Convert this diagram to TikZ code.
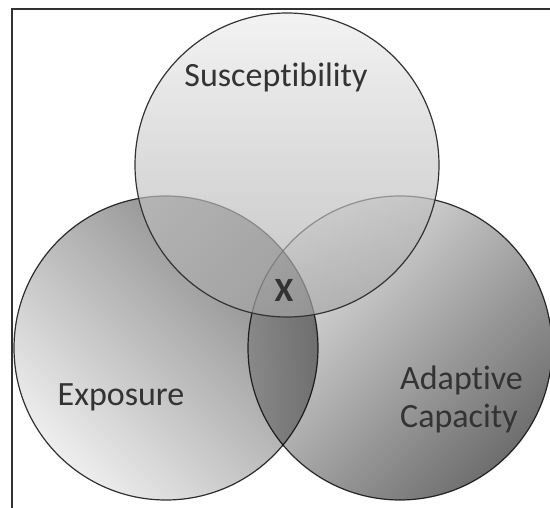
\documentclass[tikz,border=0pt]{standalone}
\usepackage{fontspec}
\setmainfont{Carlito}[Ligatures=NoCommon]
\definecolor{inkgray}{HTML}{333333}
\definecolor{expolight}{HTML}{EEEEEE}
\definecolor{expodark}{HTML}{848484}
\definecolor{adaplight}{HTML}{E6E6E6}
\definecolor{adapdark}{HTML}{6E6E6E}
\definecolor{susclight}{HTML}{ECECEC}
\definecolor{suscdark}{HTML}{A6A6A6}
\tikzset{
  venn/.style={circle, inner sep=0pt, minimum size=304pt, draw=inkgray, line width=1.2pt},
  vlabel/.style={inner sep=0pt, text=inkgray, font=\fontsize{34}{38}\selectfont},
}
\begin{document}
\begin{tikzpicture}[x=1pt, y=-1pt]
  \useasboundingbox (0,0) rectangle (550,508);
  \draw[line width=2.2pt, inkgray] (12,508) |- (550,9);
  \begin{scope}[blend group=multiply]
    \node[venn, top color=expodark, bottom color=expolight, shading angle=-45] (expo) at (166,348) {};
    \node[venn, top color=adaplight, bottom color=adapdark, shading angle=45] (adap) at (400,348) {};
  \end{scope}
  \node[venn, top color=susclight, bottom color=suscdark, fill opacity=0.67] (susc) at (287,165) {};
  \node[vlabel, anchor=base] (susclabel) at (276,87) {Susceptibility};
  \node[vlabel, anchor=base] (expolabel) at (121,406) {Exposure};
  \node[vlabel, anchor=base west, align=left] (adaplabel) at (400,428) {Adaptive\\Capacity};
  \node[vlabel, anchor=base, font=\fontsize{34}{38}\selectfont\bfseries] (xmark) at (284,302) {X};
\end{tikzpicture}
\end{document}
